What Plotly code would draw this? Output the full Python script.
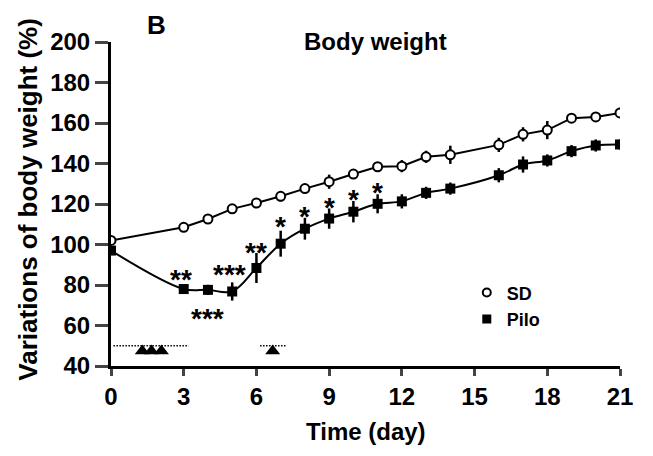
import plotly.graph_objects as go

days = [0, 3, 4, 5, 6, 7, 8, 9, 10, 11, 12, 13, 14, 16, 17, 18, 19, 20, 21]
sd_mean = [102, 108.5, 112.6, 117.6, 120.5, 123.8, 127.6, 131, 134.8, 138.4,
           138.7, 143.3, 144.3, 149.2, 154.4, 156.5, 162.4, 163, 165]
sd_err = [1, 2, 1.5, 1.5, 1.5, 2.5, 2, 3.5, 2.5, 2, 3, 3, 4.5, 3.5, 3.5, 4.5, 2, 1.5, 2.5]
pilo_mean = [97, 78, 77.6, 76.8, 88.4, 100.4, 107.8, 112.8, 116.2, 120.1,
             121.3, 125.5, 127.6, 134.2, 139.5, 141.5, 146.1, 148.9, 149.4]
pilo_err = [1.5, 1.5, 2.5, 4.5, 7.4, 6.4, 5.4, 5, 5.3, 4.7, 3.5, 3, 3, 3.5, 4, 3, 3, 3, 2.5]

# significance marks
sig_x = [2.9, 4, 4.9, 6, 7, 8, 9, 10, 11]
sig_y = [85.9, 66.6, 88, 99, 112, 116.7, 121.3, 125, 128.8]
sig_text = ["**", "***", "***", "**", "*", "*", "*", "*", "*"]

# seizure / treatment markers
tri_x = [1.29, 1.67, 2.08, 6.67]
tri_y = [47.4, 47.4, 47.4, 47.4]
dot1_x = [0.1, 3.2]
dot2_x = [6.15, 7.2]
dot_y = 50

xticks = [0, 3, 6, 9, 12, 15, 18, 21]
yticks = [40, 60, 80, 100, 120, 140, 160, 180, 200]

FONT = "Liberation Sans, Arial, sans-serif"

fig = go.Figure()

for dx in (dot1_x, dot2_x):
    fig.add_trace(go.Scatter(x=dx, y=[dot_y, dot_y], mode="lines",
                             line=dict(color="black", width=1.5, dash="1.5px,1.5px"),
                             showlegend=False, hoverinfo="skip"))
fig.add_trace(go.Scatter(x=tri_x, y=tri_y, mode="markers",
                         marker=dict(symbol="triangle-up", size=13, color="black"),
                         showlegend=False))

fig.add_trace(go.Scatter(
    x=days, y=sd_mean, name="SD", mode="lines+markers", showlegend=False,
    line=dict(color="black", width=2),
    marker=dict(symbol="circle", size=9, color="white",
                line=dict(color="black", width=2)),
    error_y=dict(type="data", array=sd_err, color="black", thickness=2.5, width=0),
))
fig.add_trace(go.Scatter(
    x=days, y=pilo_mean, name="Pilo", mode="lines+markers", showlegend=False,
    line=dict(color="black", width=2, shape="spline", smoothing=1.0),
    marker=dict(symbol="square", size=10, color="black"),
    error_y=dict(type="data", array=pilo_err, color="black", thickness=2.5, width=0),
))
# legend entries (markers only)
fig.add_trace(go.Scatter(x=[None], y=[None], name="SD", mode="markers",
                         marker=dict(symbol="circle", size=8, color="white",
                                     line=dict(color="black", width=2))))
fig.add_trace(go.Scatter(x=[None], y=[None], name="Pilo", mode="markers",
                         marker=dict(symbol="square", size=9, color="black")))

for sx, sy, st in zip(sig_x, sig_y, sig_text):
    fig.add_annotation(x=sx, y=sy, text="<b>" + st + "</b>", showarrow=False,
                       font=dict(family=FONT, size=28, color="black"),
                       yshift=-6)

fig.add_annotation(x=0.519, xref="paper", y=1.0, yref="paper", yanchor="middle",
                   text="<b>Body weight</b>", showarrow=False,
                   font=dict(family=FONT, size=24, color="black"), yshift=1)
fig.add_annotation(x=0.066, xref="paper", y=1.0, yref="paper", yanchor="top",
                   text="<b>B</b>", showarrow=False, yshift=34,
                   font=dict(family=FONT, size=26, color="black"))
fig.add_annotation(x=0.5, xref="paper", y=-0.2025, yref="paper", yanchor="middle",
                   text="<b>Time (day)</b>", showarrow=False,
                   font=dict(family=FONT, size=24, color="black"))
fig.add_annotation(x=-0.162, xref="paper", y=0.515, yref="paper",
                   xanchor="center", yanchor="middle", textangle=-90,
                   text="<b>Variations of body weight (%)</b>", showarrow=False,
                   font=dict(family=FONT, size=26, color="black"))

fig.update_layout(
    width=637, height=440,
    margin=dict(l=103, r=23, t=34, b=82),
    paper_bgcolor="white", plot_bgcolor="white",
    font=dict(family=FONT, size=20, color="black"),
    showlegend=True,
    legend=dict(x=0.699, y=0.283, xanchor="left", yanchor="top",
                font=dict(family=FONT, size=18, color="black", weight="bold"),
                bgcolor="rgba(0,0,0,0)", itemwidth=30, tracegroupgap=0),
    xaxis=dict(range=[0, 21], tickvals=xticks, ticks="outside", ticklen=7,
               tickwidth=3, showline=True, linewidth=3, linecolor="black",
               showgrid=False, zeroline=False,
               tickfont=dict(family=FONT, size=24, weight="bold")),
    yaxis=dict(range=[40, 200], tickvals=yticks, ticks="outside", ticklen=13,
               tickwidth=3, showline=True, linewidth=3, linecolor="black",
               showgrid=False, zeroline=False,
               tickfont=dict(family=FONT, size=24, weight="bold")),
)

fig.write_html("out.html")
